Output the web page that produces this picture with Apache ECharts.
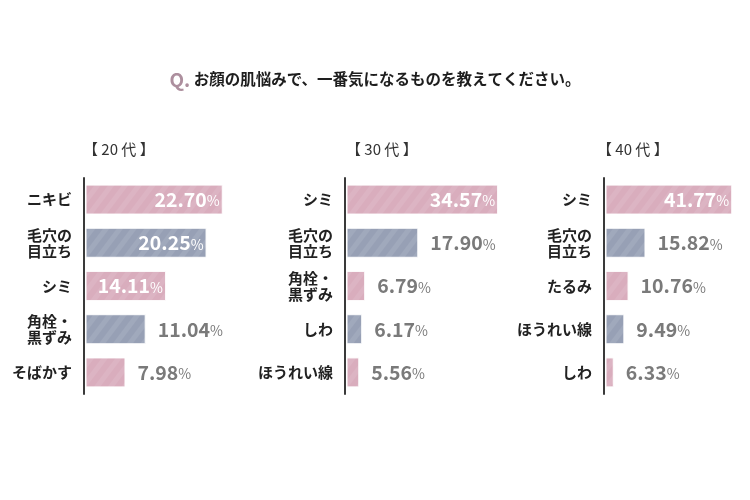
<!DOCTYPE html>
<html>
<head>
<meta charset="utf-8">
<script src="https://cdn.jsdelivr.net/npm/echarts@6/dist/echarts.min.js"></script>
<style>
html,body{margin:0;padding:0;background:#fff;}
#chart{width:750px;height:500px;}
</style>
</head>
<body>
<div id="chart"></div>
<script>
// ---- data ----
const questionMark = 'Q.';
const questionText = 'お顔の肌悩みで、一番気になるものを教えてください。';
const panelTitles = ['【 20 代 】', '【 30 代 】', '【 40 代 】'];
const cats20 = ['ニキビ', '毛穴の\n目立ち', 'シミ', '角栓・\n黒ずみ', 'そばかす'];
const vals20 = [22.70, 20.25, 14.11, 11.04, 7.98];
const cats30 = ['シミ', '毛穴の\n目立ち', '角栓・\n黒ずみ', 'しわ', 'ほうれい線'];
const vals30 = [34.57, 17.90, 6.79, 6.17, 5.56];
const cats40 = ['シミ', '毛穴の\n目立ち', 'たるみ', 'ほうれい線', 'しわ'];
const vals40 = [41.77, 15.82, 10.76, 9.49, 6.33];

// ---- layout / style ----
const FONT = '"Noto Sans CJK JP", "Noto Sans", sans-serif';
const PINK = '#d9adbd';
const BLUE = '#97a0b5';
const panels = [
  { cats: cats20, vals: vals20, left: 86, width: 185, min: 2, max: 30, inside: 3, titleX: 78 },
  { cats: cats30, vals: vals30, left: 347, width: 177, min: 3, max: 40, inside: 1, titleX: 341 },
  { cats: cats40, vals: vals40, left: 606, width: 137, min: 4, max: 45, inside: 1, titleX: 592 }
];
const GRID_TOP = 178, GRID_H = 216;

const chart = echarts.init(document.getElementById('chart'), null, { renderer: 'canvas' });

const titles = [{
  text: '{q|' + questionMark + '} ' + questionText,
  left: 'center', top: 65,
  textStyle: {
    fontFamily: FONT, fontSize: 15.5, fontWeight: 'bold', color: '#1e1e1e',
    rich: {
      q: { fontFamily: FONT, fontSize: 19, fontWeight: 'bold', color: '#ad8f9e' }
    }
  }
}];
panels.forEach((p, i) => {
  titles.push({
    text: panelTitles[i], left: p.titleX, top: 137,
    textStyle: { fontFamily: FONT, fontSize: 15, fontWeight: 'normal', color: '#333' }
  });
});

const grids = [], xAxes = [], yAxes = [], series = [];
panels.forEach((p, i) => {
  grids.push({ left: p.left, width: p.width, top: GRID_TOP, height: GRID_H, containLabel: false });
  xAxes.push({
    type: 'value', gridIndex: i, min: p.min, max: p.max,
    show: false, splitLine: { show: false }
  });
  yAxes.push({
    type: 'category', gridIndex: i, data: p.cats, inverse: true, offset: 2,
    axisLine: { show: true, onZero: false, lineStyle: { color: '#3a3a3a', width: 2 } },
    axisTick: { show: false },
    axisLabel: {
      margin: 12, fontFamily: FONT, fontSize: 15, fontWeight: 'bold',
      color: '#222', lineHeight: 16, align: 'right'
    }
  });
  series.push({
    type: 'bar', xAxisIndex: i, yAxisIndex: i, barWidth: 30, clip: true,
    itemStyle: {
      decal: {
        symbol: 'rect', symbolSize: 1, color: 'rgba(255,255,255,0.09)',
        dashArrayX: [[1, 0]], dashArrayY: [5, 6], rotation: -Math.PI / 3.4
      },
      borderColor: 'rgba(255,255,255,0.6)', borderWidth: 1
    },
    data: p.vals.map((v, k) => {
      const inside = k < p.inside;
      return {
        value: v,
        itemStyle: { color: k % 2 === 0 ? PINK : BLUE },
        label: {
          show: true,
          position: inside ? 'insideRight' : 'right',
          distance: inside ? 3 : 12,
          formatter: '{n|' + v.toFixed(2) + '}{p|%}',
          rich: {
            n: { fontFamily: FONT, fontSize: 19.5, fontWeight: 'bold', color: inside ? '#fff' : '#7a7a7a' },
            p: { fontFamily: FONT, fontSize: 14, fontWeight: 'normal', color: inside ? '#fff' : '#7a7a7a', padding: [3, 0, 0, 0] }
          }
        }
      };
    })
  });
});

chart.setOption({
  backgroundColor: '#fff',
  animation: false,
  title: titles,
  grid: grids,
  xAxis: xAxes,
  yAxis: yAxes,
  series: series
});
</script>
</body>
</html>
